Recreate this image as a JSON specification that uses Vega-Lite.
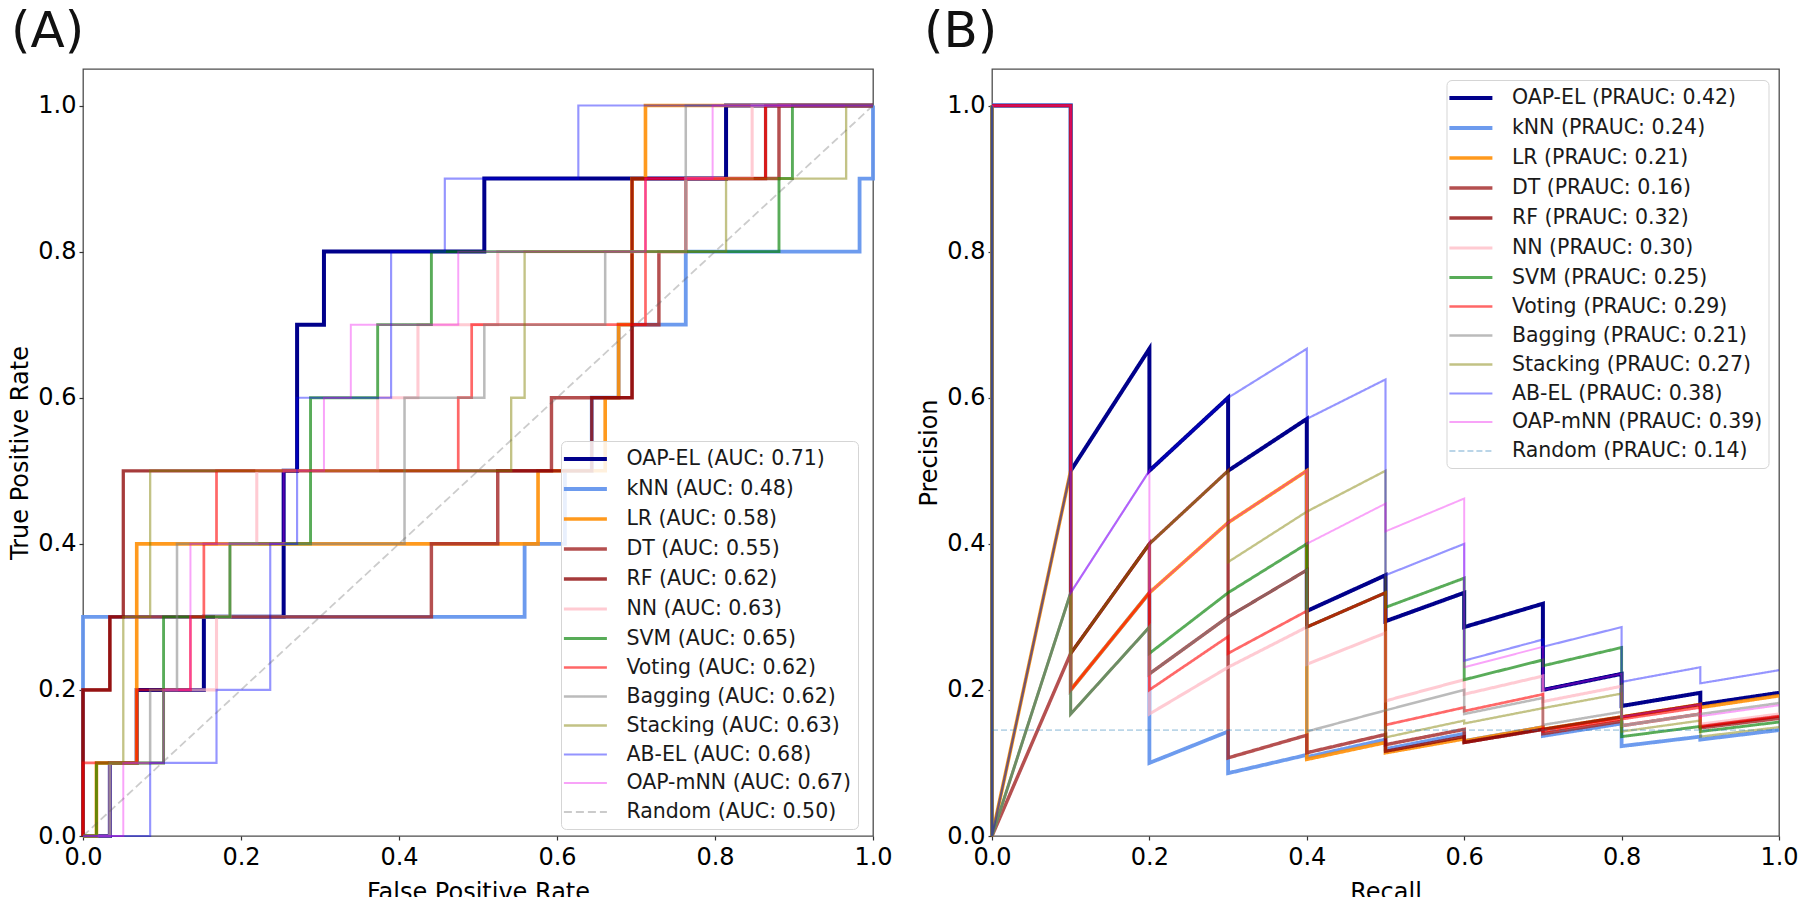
{
  "$schema": "https://vega.github.io/schema/vega-lite/v6.json",
  "padding": {"left": 8, "top": 5, "right": 0, "bottom": 0},
  "bounds": "flush",
  "spacing": 119,
  "config": {
    "font": "DejaVu Sans",
    "view": {"stroke": "#4d4d4d", "strokeWidth": 1.3},
    "axis": {"labelFont": "DejaVu Sans", "labelFontSize": 24, "labelColor": "#000", "titleFont": "DejaVu Sans", "titleFontSize": 24, "titleFontWeight": "normal", "titleColor": "#000", "grid": false, "domain": false, "tickColor": "#333", "tickSize": 4, "tickWidth": 1.2, "labelFlush": false, "labelOverlap": false},
    "axisY": {"labelPadding": 3, "titlePadding": 5},
    "axisX": {"labelPadding": 5, "titlePadding": 11},
    "legend": {"labelFont": "DejaVu Sans", "labelFontSize": 20.5, "labelColor": "#1a1a1a", "padding": 6, "rowPadding": 7, "fillColor": "rgba(255,255,255,0.85)", "strokeColor": "#d5d5d5", "cornerRadius": 5, "symbolSize": 400, "symbolOffset": 6.4, "labelOffset": 29, "labelLimit": 0},
    "title": {"font": "DejaVu Sans", "fontSize": 50, "fontWeight": "normal", "color": "#111", "anchor": "start", "frame": "group", "baseline": "alphabetic"}
  },
  "datasets": {
    "rocLab": [
      {"model": "OAP-EL", "label": "OAP-EL (AUC: 0.71)"},
      {"model": "kNN", "label": "kNN (AUC: 0.48)"},
      {"model": "LR", "label": "LR (AUC: 0.58)"},
      {"model": "DT", "label": "DT (AUC: 0.55)"},
      {"model": "RF", "label": "RF (AUC: 0.62)"},
      {"model": "NN", "label": "NN (AUC: 0.63)"},
      {"model": "SVM", "label": "SVM (AUC: 0.65)"},
      {"model": "Voting", "label": "Voting (AUC: 0.62)"},
      {"model": "Bagging", "label": "Bagging (AUC: 0.62)"},
      {"model": "Stacking", "label": "Stacking (AUC: 0.63)"},
      {"model": "AB-EL", "label": "AB-EL (AUC: 0.68)"},
      {"model": "OAP-mNN", "label": "OAP-mNN (AUC: 0.67)"},
      {"model": "Random", "label": "Random (AUC: 0.50)"}
    ],
    "prLab": [
      {"model": "OAP-EL", "label": "OAP-EL (PRAUC: 0.42)"},
      {"model": "kNN", "label": "kNN (PRAUC: 0.24)"},
      {"model": "LR", "label": "LR (PRAUC: 0.21)"},
      {"model": "DT", "label": "DT (PRAUC: 0.16)"},
      {"model": "RF", "label": "RF (PRAUC: 0.32)"},
      {"model": "NN", "label": "NN (PRAUC: 0.30)"},
      {"model": "SVM", "label": "SVM (PRAUC: 0.25)"},
      {"model": "Voting", "label": "Voting (PRAUC: 0.29)"},
      {"model": "Bagging", "label": "Bagging (PRAUC: 0.21)"},
      {"model": "Stacking", "label": "Stacking (PRAUC: 0.27)"},
      {"model": "AB-EL", "label": "AB-EL (PRAUC: 0.38)"},
      {"model": "OAP-mNN", "label": "OAP-mNN (PRAUC: 0.39)"},
      {"model": "Random", "label": "Random (PRAUC: 0.14)"}
    ],
    "rocRandom": [
      {"model": "Random", "fpr": 0, "tpr": 0},
      {"model": "Random", "fpr": 1, "tpr": 1}
    ],
    "roc": [
      {"model": "OAP-EL", "fpr": 0, "tpr": 0}, {"model": "OAP-EL", "fpr": 0.034, "tpr": 0.1}, {"model": "OAP-EL", "fpr": 0.068, "tpr": 0.2}, {"model": "OAP-EL", "fpr": 0.153, "tpr": 0.3}, {"model": "OAP-EL", "fpr": 0.254, "tpr": 0.4}, {"model": "OAP-EL", "fpr": 0.254, "tpr": 0.5}, {"model": "OAP-EL", "fpr": 0.271, "tpr": 0.6}, {"model": "OAP-EL", "fpr": 0.271, "tpr": 0.7}, {"model": "OAP-EL", "fpr": 0.305, "tpr": 0.8}, {"model": "OAP-EL", "fpr": 0.508, "tpr": 0.9}, {"model": "OAP-EL", "fpr": 0.814, "tpr": 1.0}, {"model": "OAP-EL", "fpr": 1, "tpr": 1.0},
      {"model": "kNN", "fpr": 0, "tpr": 0}, {"model": "kNN", "fpr": 0, "tpr": 0.1}, {"model": "kNN", "fpr": 0, "tpr": 0.2}, {"model": "kNN", "fpr": 0, "tpr": 0.3}, {"model": "kNN", "fpr": 0.559, "tpr": 0.4}, {"model": "kNN", "fpr": 0.61, "tpr": 0.5}, {"model": "kNN", "fpr": 0.644, "tpr": 0.6}, {"model": "kNN", "fpr": 0.678, "tpr": 0.7}, {"model": "kNN", "fpr": 0.763, "tpr": 0.8}, {"model": "kNN", "fpr": 0.983, "tpr": 0.9}, {"model": "kNN", "fpr": 1, "tpr": 1.0},
      {"model": "LR", "fpr": 0, "tpr": 0}, {"model": "LR", "fpr": 0.017, "tpr": 0.1}, {"model": "LR", "fpr": 0.068, "tpr": 0.2}, {"model": "LR", "fpr": 0.068, "tpr": 0.3}, {"model": "LR", "fpr": 0.068, "tpr": 0.4}, {"model": "LR", "fpr": 0.576, "tpr": 0.5}, {"model": "LR", "fpr": 0.661, "tpr": 0.6}, {"model": "LR", "fpr": 0.678, "tpr": 0.7}, {"model": "LR", "fpr": 0.695, "tpr": 0.8}, {"model": "LR", "fpr": 0.695, "tpr": 0.9}, {"model": "LR", "fpr": 0.712, "tpr": 1.0}, {"model": "LR", "fpr": 1, "tpr": 1.0},
      {"model": "DT", "fpr": 0, "tpr": 0}, {"model": "DT", "fpr": 0, "tpr": 0.1}, {"model": "DT", "fpr": 0, "tpr": 0.2}, {"model": "DT", "fpr": 0.034, "tpr": 0.3}, {"model": "DT", "fpr": 0.441, "tpr": 0.4}, {"model": "DT", "fpr": 0.525, "tpr": 0.5}, {"model": "DT", "fpr": 0.593, "tpr": 0.6}, {"model": "DT", "fpr": 0.695, "tpr": 0.7}, {"model": "DT", "fpr": 0.729, "tpr": 0.8}, {"model": "DT", "fpr": 0.763, "tpr": 0.9}, {"model": "DT", "fpr": 0.881, "tpr": 1.0}, {"model": "DT", "fpr": 1, "tpr": 1.0},
      {"model": "RF", "fpr": 0, "tpr": 0}, {"model": "RF", "fpr": 0, "tpr": 0.1}, {"model": "RF", "fpr": 0, "tpr": 0.2}, {"model": "RF", "fpr": 0.034, "tpr": 0.3}, {"model": "RF", "fpr": 0.051, "tpr": 0.4}, {"model": "RF", "fpr": 0.051, "tpr": 0.5}, {"model": "RF", "fpr": 0.644, "tpr": 0.6}, {"model": "RF", "fpr": 0.695, "tpr": 0.7}, {"model": "RF", "fpr": 0.695, "tpr": 0.8}, {"model": "RF", "fpr": 0.695, "tpr": 0.9}, {"model": "RF", "fpr": 0.864, "tpr": 1.0}, {"model": "RF", "fpr": 1, "tpr": 1.0},
      {"model": "NN", "fpr": 0, "tpr": 0}, {"model": "NN", "fpr": 0.034, "tpr": 0.1}, {"model": "NN", "fpr": 0.102, "tpr": 0.2}, {"model": "NN", "fpr": 0.169, "tpr": 0.3}, {"model": "NN", "fpr": 0.186, "tpr": 0.4}, {"model": "NN", "fpr": 0.22, "tpr": 0.5}, {"model": "NN", "fpr": 0.373, "tpr": 0.6}, {"model": "NN", "fpr": 0.424, "tpr": 0.7}, {"model": "NN", "fpr": 0.525, "tpr": 0.8}, {"model": "NN", "fpr": 0.763, "tpr": 0.9}, {"model": "NN", "fpr": 0.847, "tpr": 1.0}, {"model": "NN", "fpr": 1, "tpr": 1.0},
      {"model": "SVM", "fpr": 0, "tpr": 0}, {"model": "SVM", "fpr": 0.017, "tpr": 0.1}, {"model": "SVM", "fpr": 0.102, "tpr": 0.2}, {"model": "SVM", "fpr": 0.102, "tpr": 0.3}, {"model": "SVM", "fpr": 0.186, "tpr": 0.4}, {"model": "SVM", "fpr": 0.288, "tpr": 0.5}, {"model": "SVM", "fpr": 0.288, "tpr": 0.6}, {"model": "SVM", "fpr": 0.373, "tpr": 0.7}, {"model": "SVM", "fpr": 0.441, "tpr": 0.8}, {"model": "SVM", "fpr": 0.881, "tpr": 0.9}, {"model": "SVM", "fpr": 0.898, "tpr": 1.0}, {"model": "SVM", "fpr": 1, "tpr": 1.0},
      {"model": "Voting", "fpr": 0, "tpr": 0}, {"model": "Voting", "fpr": 0, "tpr": 0.1}, {"model": "Voting", "fpr": 0.068, "tpr": 0.2}, {"model": "Voting", "fpr": 0.136, "tpr": 0.3}, {"model": "Voting", "fpr": 0.153, "tpr": 0.4}, {"model": "Voting", "fpr": 0.169, "tpr": 0.5}, {"model": "Voting", "fpr": 0.475, "tpr": 0.6}, {"model": "Voting", "fpr": 0.492, "tpr": 0.7}, {"model": "Voting", "fpr": 0.712, "tpr": 0.8}, {"model": "Voting", "fpr": 0.712, "tpr": 0.9}, {"model": "Voting", "fpr": 0.864, "tpr": 1.0}, {"model": "Voting", "fpr": 1, "tpr": 1.0},
      {"model": "Bagging", "fpr": 0, "tpr": 0}, {"model": "Bagging", "fpr": 0.034, "tpr": 0.1}, {"model": "Bagging", "fpr": 0.085, "tpr": 0.2}, {"model": "Bagging", "fpr": 0.119, "tpr": 0.3}, {"model": "Bagging", "fpr": 0.119, "tpr": 0.4}, {"model": "Bagging", "fpr": 0.407, "tpr": 0.5}, {"model": "Bagging", "fpr": 0.407, "tpr": 0.6}, {"model": "Bagging", "fpr": 0.508, "tpr": 0.7}, {"model": "Bagging", "fpr": 0.661, "tpr": 0.8}, {"model": "Bagging", "fpr": 0.763, "tpr": 0.9}, {"model": "Bagging", "fpr": 0.763, "tpr": 1.0}, {"model": "Bagging", "fpr": 1, "tpr": 1.0},
      {"model": "Stacking", "fpr": 0, "tpr": 0}, {"model": "Stacking", "fpr": 0.017, "tpr": 0.1}, {"model": "Stacking", "fpr": 0.051, "tpr": 0.2}, {"model": "Stacking", "fpr": 0.051, "tpr": 0.3}, {"model": "Stacking", "fpr": 0.085, "tpr": 0.4}, {"model": "Stacking", "fpr": 0.085, "tpr": 0.5}, {"model": "Stacking", "fpr": 0.542, "tpr": 0.6}, {"model": "Stacking", "fpr": 0.559, "tpr": 0.7}, {"model": "Stacking", "fpr": 0.559, "tpr": 0.8}, {"model": "Stacking", "fpr": 0.814, "tpr": 0.9}, {"model": "Stacking", "fpr": 0.966, "tpr": 1.0}, {"model": "Stacking", "fpr": 1, "tpr": 1.0},
      {"model": "AB-EL", "fpr": 0, "tpr": 0}, {"model": "AB-EL", "fpr": 0.085, "tpr": 0.1}, {"model": "AB-EL", "fpr": 0.169, "tpr": 0.2}, {"model": "AB-EL", "fpr": 0.237, "tpr": 0.3}, {"model": "AB-EL", "fpr": 0.237, "tpr": 0.4}, {"model": "AB-EL", "fpr": 0.271, "tpr": 0.5}, {"model": "AB-EL", "fpr": 0.271, "tpr": 0.6}, {"model": "AB-EL", "fpr": 0.39, "tpr": 0.7}, {"model": "AB-EL", "fpr": 0.39, "tpr": 0.8}, {"model": "AB-EL", "fpr": 0.458, "tpr": 0.9}, {"model": "AB-EL", "fpr": 0.627, "tpr": 1.0}, {"model": "AB-EL", "fpr": 1, "tpr": 1.0},
      {"model": "OAP-mNN", "fpr": 0, "tpr": 0}, {"model": "OAP-mNN", "fpr": 0.051, "tpr": 0.1}, {"model": "OAP-mNN", "fpr": 0.102, "tpr": 0.2}, {"model": "OAP-mNN", "fpr": 0.136, "tpr": 0.3}, {"model": "OAP-mNN", "fpr": 0.136, "tpr": 0.4}, {"model": "OAP-mNN", "fpr": 0.254, "tpr": 0.5}, {"model": "OAP-mNN", "fpr": 0.305, "tpr": 0.6}, {"model": "OAP-mNN", "fpr": 0.339, "tpr": 0.7}, {"model": "OAP-mNN", "fpr": 0.475, "tpr": 0.8}, {"model": "OAP-mNN", "fpr": 0.712, "tpr": 0.9}, {"model": "OAP-mNN", "fpr": 0.797, "tpr": 1.0}, {"model": "OAP-mNN", "fpr": 1, "tpr": 1.0}
    ],
    "pr": [
      {"model": "OAP-EL", "o": 0, "recall": 0, "precision": 1}, {"model": "OAP-EL", "o": 1, "recall": 0.1, "precision": 1}, {"model": "OAP-EL", "o": 2, "recall": 0.1, "precision": 0.5}, {"model": "OAP-EL", "o": 3, "recall": 0.2, "precision": 0.667}, {"model": "OAP-EL", "o": 4, "recall": 0.2, "precision": 0.5}, {"model": "OAP-EL", "o": 5, "recall": 0.3, "precision": 0.6}, {"model": "OAP-EL", "o": 6, "recall": 0.3, "precision": 0.5}, {"model": "OAP-EL", "o": 7, "recall": 0.4, "precision": 0.571}, {"model": "OAP-EL", "o": 8, "recall": 0.4, "precision": 0.308}, {"model": "OAP-EL", "o": 9, "recall": 0.5, "precision": 0.357}, {"model": "OAP-EL", "o": 10, "recall": 0.5, "precision": 0.294}, {"model": "OAP-EL", "o": 11, "recall": 0.6, "precision": 0.333}, {"model": "OAP-EL", "o": 12, "recall": 0.6, "precision": 0.286}, {"model": "OAP-EL", "o": 13, "recall": 0.7, "precision": 0.318}, {"model": "OAP-EL", "o": 14, "recall": 0.7, "precision": 0.2}, {"model": "OAP-EL", "o": 15, "recall": 0.8, "precision": 0.222}, {"model": "OAP-EL", "o": 16, "recall": 0.8, "precision": 0.178}, {"model": "OAP-EL", "o": 17, "recall": 0.9, "precision": 0.196}, {"model": "OAP-EL", "o": 18, "recall": 0.9, "precision": 0.18}, {"model": "OAP-EL", "o": 19, "recall": 1.0, "precision": 0.196},
      {"model": "kNN", "o": 0, "recall": 0, "precision": 1}, {"model": "kNN", "o": 1, "recall": 0.1, "precision": 1}, {"model": "kNN", "o": 2, "recall": 0.1, "precision": 0.2}, {"model": "kNN", "o": 3, "recall": 0.2, "precision": 0.333}, {"model": "kNN", "o": 4, "recall": 0.2, "precision": 0.1}, {"model": "kNN", "o": 5, "recall": 0.3, "precision": 0.143}, {"model": "kNN", "o": 6, "recall": 0.3, "precision": 0.086}, {"model": "kNN", "o": 7, "recall": 0.4, "precision": 0.111}, {"model": "kNN", "o": 8, "recall": 0.4, "precision": 0.108}, {"model": "kNN", "o": 9, "recall": 0.5, "precision": 0.132}, {"model": "kNN", "o": 10, "recall": 0.5, "precision": 0.119}, {"model": "kNN", "o": 11, "recall": 0.6, "precision": 0.14}, {"model": "kNN", "o": 12, "recall": 0.6, "precision": 0.13}, {"model": "kNN", "o": 13, "recall": 0.7, "precision": 0.149}, {"model": "kNN", "o": 14, "recall": 0.7, "precision": 0.137}, {"model": "kNN", "o": 15, "recall": 0.8, "precision": 0.154}, {"model": "kNN", "o": 16, "recall": 0.8, "precision": 0.123}, {"model": "kNN", "o": 17, "recall": 0.9, "precision": 0.136}, {"model": "kNN", "o": 18, "recall": 0.9, "precision": 0.132}, {"model": "kNN", "o": 19, "recall": 1.0, "precision": 0.145},
      {"model": "LR", "o": 0, "recall": 0, "precision": 1}, {"model": "LR", "o": 1, "recall": 0, "precision": 0}, {"model": "LR", "o": 2, "recall": 0.1, "precision": 0.5}, {"model": "LR", "o": 3, "recall": 0.1, "precision": 0.2}, {"model": "LR", "o": 4, "recall": 0.2, "precision": 0.333}, {"model": "LR", "o": 5, "recall": 0.3, "precision": 0.429}, {"model": "LR", "o": 6, "recall": 0.4, "precision": 0.5}, {"model": "LR", "o": 7, "recall": 0.4, "precision": 0.105}, {"model": "LR", "o": 8, "recall": 0.5, "precision": 0.128}, {"model": "LR", "o": 9, "recall": 0.5, "precision": 0.114}, {"model": "LR", "o": 10, "recall": 0.6, "precision": 0.133}, {"model": "LR", "o": 11, "recall": 0.6, "precision": 0.13}, {"model": "LR", "o": 12, "recall": 0.7, "precision": 0.149}, {"model": "LR", "o": 13, "recall": 0.7, "precision": 0.146}, {"model": "LR", "o": 14, "recall": 0.8, "precision": 0.163}, {"model": "LR", "o": 15, "recall": 0.9, "precision": 0.18}, {"model": "LR", "o": 16, "recall": 0.9, "precision": 0.176}, {"model": "LR", "o": 17, "recall": 1.0, "precision": 0.192},
      {"model": "DT", "o": 0, "recall": 0, "precision": 1}, {"model": "DT", "o": 1, "recall": 0, "precision": 0}, {"model": "DT", "o": 2, "recall": 0.1, "precision": 0.25}, {"model": "DT", "o": 3, "recall": 0.2, "precision": 0.4}, {"model": "DT", "o": 4, "recall": 0.2, "precision": 0.222}, {"model": "DT", "o": 5, "recall": 0.3, "precision": 0.3}, {"model": "DT", "o": 6, "recall": 0.3, "precision": 0.107}, {"model": "DT", "o": 7, "recall": 0.4, "precision": 0.138}, {"model": "DT", "o": 8, "recall": 0.4, "precision": 0.114}, {"model": "DT", "o": 9, "recall": 0.5, "precision": 0.139}, {"model": "DT", "o": 10, "recall": 0.5, "precision": 0.125}, {"model": "DT", "o": 11, "recall": 0.6, "precision": 0.146}, {"model": "DT", "o": 12, "recall": 0.6, "precision": 0.128}, {"model": "DT", "o": 13, "recall": 0.7, "precision": 0.146}, {"model": "DT", "o": 14, "recall": 0.7, "precision": 0.14}, {"model": "DT", "o": 15, "recall": 0.8, "precision": 0.157}, {"model": "DT", "o": 16, "recall": 0.8, "precision": 0.151}, {"model": "DT", "o": 17, "recall": 0.9, "precision": 0.167}, {"model": "DT", "o": 18, "recall": 0.9, "precision": 0.148}, {"model": "DT", "o": 19, "recall": 1.0, "precision": 0.161},
      {"model": "RF", "o": 0, "recall": 0, "precision": 1}, {"model": "RF", "o": 1, "recall": 0.1, "precision": 1}, {"model": "RF", "o": 2, "recall": 0.1, "precision": 0.25}, {"model": "RF", "o": 3, "recall": 0.2, "precision": 0.4}, {"model": "RF", "o": 4, "recall": 0.3, "precision": 0.5}, {"model": "RF", "o": 5, "recall": 0.3, "precision": 0.3}, {"model": "RF", "o": 6, "recall": 0.4, "precision": 0.364}, {"model": "RF", "o": 7, "recall": 0.4, "precision": 0.286}, {"model": "RF", "o": 8, "recall": 0.5, "precision": 0.333}, {"model": "RF", "o": 9, "recall": 0.5, "precision": 0.116}, {"model": "RF", "o": 10, "recall": 0.6, "precision": 0.136}, {"model": "RF", "o": 11, "recall": 0.6, "precision": 0.128}, {"model": "RF", "o": 12, "recall": 0.7, "precision": 0.146}, {"model": "RF", "o": 13, "recall": 0.8, "precision": 0.163}, {"model": "RF", "o": 14, "recall": 0.9, "precision": 0.18}, {"model": "RF", "o": 15, "recall": 0.9, "precision": 0.15}, {"model": "RF", "o": 16, "recall": 1.0, "precision": 0.164},
      {"model": "NN", "o": 0, "recall": 0, "precision": 1}, {"model": "NN", "o": 1, "recall": 0, "precision": 0}, {"model": "NN", "o": 2, "recall": 0.1, "precision": 0.333}, {"model": "NN", "o": 3, "recall": 0.1, "precision": 0.167}, {"model": "NN", "o": 4, "recall": 0.2, "precision": 0.286}, {"model": "NN", "o": 5, "recall": 0.2, "precision": 0.167}, {"model": "NN", "o": 6, "recall": 0.3, "precision": 0.231}, {"model": "NN", "o": 7, "recall": 0.4, "precision": 0.286}, {"model": "NN", "o": 8, "recall": 0.4, "precision": 0.235}, {"model": "NN", "o": 9, "recall": 0.5, "precision": 0.278}, {"model": "NN", "o": 10, "recall": 0.5, "precision": 0.185}, {"model": "NN", "o": 11, "recall": 0.6, "precision": 0.214}, {"model": "NN", "o": 12, "recall": 0.6, "precision": 0.194}, {"model": "NN", "o": 13, "recall": 0.7, "precision": 0.219}, {"model": "NN", "o": 14, "recall": 0.7, "precision": 0.184}, {"model": "NN", "o": 15, "recall": 0.8, "precision": 0.205}, {"model": "NN", "o": 16, "recall": 0.8, "precision": 0.151}, {"model": "NN", "o": 17, "recall": 0.9, "precision": 0.167}, {"model": "NN", "o": 18, "recall": 0.9, "precision": 0.153}, {"model": "NN", "o": 19, "recall": 1.0, "precision": 0.167},
      {"model": "SVM", "o": 0, "recall": 0, "precision": 1}, {"model": "SVM", "o": 1, "recall": 0, "precision": 0}, {"model": "SVM", "o": 2, "recall": 0.1, "precision": 0.333}, {"model": "SVM", "o": 3, "recall": 0.1, "precision": 0.167}, {"model": "SVM", "o": 4, "recall": 0.2, "precision": 0.286}, {"model": "SVM", "o": 5, "recall": 0.2, "precision": 0.25}, {"model": "SVM", "o": 6, "recall": 0.3, "precision": 0.333}, {"model": "SVM", "o": 7, "recall": 0.4, "precision": 0.4}, {"model": "SVM", "o": 8, "recall": 0.4, "precision": 0.286}, {"model": "SVM", "o": 9, "recall": 0.5, "precision": 0.333}, {"model": "SVM", "o": 10, "recall": 0.5, "precision": 0.313}, {"model": "SVM", "o": 11, "recall": 0.6, "precision": 0.353}, {"model": "SVM", "o": 12, "recall": 0.6, "precision": 0.214}, {"model": "SVM", "o": 13, "recall": 0.7, "precision": 0.241}, {"model": "SVM", "o": 14, "recall": 0.7, "precision": 0.233}, {"model": "SVM", "o": 15, "recall": 0.8, "precision": 0.258}, {"model": "SVM", "o": 16, "recall": 0.8, "precision": 0.136}, {"model": "SVM", "o": 17, "recall": 0.9, "precision": 0.15}, {"model": "SVM", "o": 18, "recall": 0.9, "precision": 0.143}, {"model": "SVM", "o": 19, "recall": 1.0, "precision": 0.156},
      {"model": "Voting", "o": 0, "recall": 0, "precision": 1}, {"model": "Voting", "o": 1, "recall": 0.1, "precision": 1}, {"model": "Voting", "o": 2, "recall": 0.1, "precision": 0.2}, {"model": "Voting", "o": 3, "recall": 0.2, "precision": 0.333}, {"model": "Voting", "o": 4, "recall": 0.2, "precision": 0.2}, {"model": "Voting", "o": 5, "recall": 0.3, "precision": 0.273}, {"model": "Voting", "o": 6, "recall": 0.3, "precision": 0.25}, {"model": "Voting", "o": 7, "recall": 0.4, "precision": 0.308}, {"model": "Voting", "o": 8, "recall": 0.4, "precision": 0.286}, {"model": "Voting", "o": 9, "recall": 0.5, "precision": 0.333}, {"model": "Voting", "o": 10, "recall": 0.5, "precision": 0.152}, {"model": "Voting", "o": 11, "recall": 0.6, "precision": 0.176}, {"model": "Voting", "o": 12, "recall": 0.6, "precision": 0.171}, {"model": "Voting", "o": 13, "recall": 0.7, "precision": 0.194}, {"model": "Voting", "o": 14, "recall": 0.7, "precision": 0.143}, {"model": "Voting", "o": 15, "recall": 0.8, "precision": 0.16}, {"model": "Voting", "o": 16, "recall": 0.9, "precision": 0.176}, {"model": "Voting", "o": 17, "recall": 0.9, "precision": 0.15}, {"model": "Voting", "o": 18, "recall": 1.0, "precision": 0.164},
      {"model": "Bagging", "o": 0, "recall": 0, "precision": 1}, {"model": "Bagging", "o": 1, "recall": 0, "precision": 0}, {"model": "Bagging", "o": 2, "recall": 0.1, "precision": 0.333}, {"model": "Bagging", "o": 3, "recall": 0.1, "precision": 0.167}, {"model": "Bagging", "o": 4, "recall": 0.2, "precision": 0.286}, {"model": "Bagging", "o": 5, "recall": 0.2, "precision": 0.222}, {"model": "Bagging", "o": 6, "recall": 0.3, "precision": 0.3}, {"model": "Bagging", "o": 7, "recall": 0.4, "precision": 0.364}, {"model": "Bagging", "o": 8, "recall": 0.4, "precision": 0.143}, {"model": "Bagging", "o": 9, "recall": 0.5, "precision": 0.172}, {"model": "Bagging", "o": 10, "recall": 0.6, "precision": 0.2}, {"model": "Bagging", "o": 11, "recall": 0.6, "precision": 0.167}, {"model": "Bagging", "o": 12, "recall": 0.7, "precision": 0.189}, {"model": "Bagging", "o": 13, "recall": 0.7, "precision": 0.152}, {"model": "Bagging", "o": 14, "recall": 0.8, "precision": 0.17}, {"model": "Bagging", "o": 15, "recall": 0.8, "precision": 0.151}, {"model": "Bagging", "o": 16, "recall": 0.9, "precision": 0.167}, {"model": "Bagging", "o": 17, "recall": 1.0, "precision": 0.182},
      {"model": "Stacking", "o": 0, "recall": 0, "precision": 1}, {"model": "Stacking", "o": 1, "recall": 0, "precision": 0}, {"model": "Stacking", "o": 2, "recall": 0.1, "precision": 0.5}, {"model": "Stacking", "o": 3, "recall": 0.1, "precision": 0.25}, {"model": "Stacking", "o": 4, "recall": 0.2, "precision": 0.4}, {"model": "Stacking", "o": 5, "recall": 0.3, "precision": 0.5}, {"model": "Stacking", "o": 6, "recall": 0.3, "precision": 0.375}, {"model": "Stacking", "o": 7, "recall": 0.4, "precision": 0.444}, {"model": "Stacking", "o": 8, "recall": 0.5, "precision": 0.5}, {"model": "Stacking", "o": 9, "recall": 0.5, "precision": 0.135}, {"model": "Stacking", "o": 10, "recall": 0.6, "precision": 0.158}, {"model": "Stacking", "o": 11, "recall": 0.6, "precision": 0.154}, {"model": "Stacking", "o": 12, "recall": 0.7, "precision": 0.175}, {"model": "Stacking", "o": 13, "recall": 0.8, "precision": 0.195}, {"model": "Stacking", "o": 14, "recall": 0.8, "precision": 0.143}, {"model": "Stacking", "o": 15, "recall": 0.9, "precision": 0.158}, {"model": "Stacking", "o": 16, "recall": 0.9, "precision": 0.136}, {"model": "Stacking", "o": 17, "recall": 1.0, "precision": 0.149},
      {"model": "AB-EL", "o": 0, "recall": 0, "precision": 1}, {"model": "AB-EL", "o": 1, "recall": 0, "precision": 0}, {"model": "AB-EL", "o": 2, "recall": 0.1, "precision": 0.5}, {"model": "AB-EL", "o": 3, "recall": 0.1, "precision": 0.333}, {"model": "AB-EL", "o": 4, "recall": 0.2, "precision": 0.5}, {"model": "AB-EL", "o": 5, "recall": 0.3, "precision": 0.6}, {"model": "AB-EL", "o": 6, "recall": 0.4, "precision": 0.667}, {"model": "AB-EL", "o": 7, "recall": 0.4, "precision": 0.571}, {"model": "AB-EL", "o": 8, "recall": 0.5, "precision": 0.625}, {"model": "AB-EL", "o": 9, "recall": 0.5, "precision": 0.357}, {"model": "AB-EL", "o": 10, "recall": 0.6, "precision": 0.4}, {"model": "AB-EL", "o": 11, "recall": 0.6, "precision": 0.24}, {"model": "AB-EL", "o": 12, "recall": 0.7, "precision": 0.269}, {"model": "AB-EL", "o": 13, "recall": 0.7, "precision": 0.259}, {"model": "AB-EL", "o": 14, "recall": 0.8, "precision": 0.286}, {"model": "AB-EL", "o": 15, "recall": 0.8, "precision": 0.211}, {"model": "AB-EL", "o": 16, "recall": 0.9, "precision": 0.231}, {"model": "AB-EL", "o": 17, "recall": 0.9, "precision": 0.209}, {"model": "AB-EL", "o": 18, "recall": 1.0, "precision": 0.227},
      {"model": "OAP-mNN", "o": 0, "recall": 0, "precision": 1}, {"model": "OAP-mNN", "o": 1, "recall": 0.1, "precision": 1}, {"model": "OAP-mNN", "o": 2, "recall": 0.1, "precision": 0.333}, {"model": "OAP-mNN", "o": 3, "recall": 0.2, "precision": 0.5}, {"model": "OAP-mNN", "o": 4, "recall": 0.2, "precision": 0.333}, {"model": "OAP-mNN", "o": 5, "recall": 0.3, "precision": 0.429}, {"model": "OAP-mNN", "o": 6, "recall": 0.4, "precision": 0.5}, {"model": "OAP-mNN", "o": 7, "recall": 0.4, "precision": 0.4}, {"model": "OAP-mNN", "o": 8, "recall": 0.5, "precision": 0.455}, {"model": "OAP-mNN", "o": 9, "recall": 0.5, "precision": 0.417}, {"model": "OAP-mNN", "o": 10, "recall": 0.6, "precision": 0.462}, {"model": "OAP-mNN", "o": 11, "recall": 0.6, "precision": 0.231}, {"model": "OAP-mNN", "o": 12, "recall": 0.7, "precision": 0.259}, {"model": "OAP-mNN", "o": 13, "recall": 0.7, "precision": 0.2}, {"model": "OAP-mNN", "o": 14, "recall": 0.8, "precision": 0.222}, {"model": "OAP-mNN", "o": 15, "recall": 0.8, "precision": 0.163}, {"model": "OAP-mNN", "o": 16, "recall": 0.9, "precision": 0.18}, {"model": "OAP-mNN", "o": 17, "recall": 0.9, "precision": 0.164}, {"model": "OAP-mNN", "o": 18, "recall": 1.0, "precision": 0.179},
      {"model": "Random", "o": 0, "recall": 0, "precision": 0.145}, {"model": "Random", "o": 1, "recall": 1, "precision": 0.145}
    ]
  },
  "resolve": {
    "scale": {"x": "independent", "y": "independent", "color": "independent", "opacity": "independent", "strokeWidth": "independent", "strokeDash": "independent"},
    "legend": {"color": "independent", "opacity": "independent", "strokeWidth": "independent", "strokeDash": "independent"}
  },
  "hconcat": [
    {
      "width": 790,
      "height": 767,
      "title": {"text": "(A)", "dx": -72, "offset": 12.5},
      "encoding": {
        "x": {"field": "fpr", "type": "quantitative", "scale": {"domain": [0, 1], "nice": false, "zero": false}, "axis": {"title": "False Positive Rate", "values": [0, 0.2, 0.4, 0.6, 0.8, 1], "format": ".1f"}},
        "y": {"field": "tpr", "type": "quantitative", "scale": {"domain": [0, 1.05], "nice": false}, "axis": {"title": "True Positive Rate", "values": [0, 0.2, 0.4, 0.6, 0.8, 1], "format": ".1f"}},
        "color": {"field": "label", "type": "nominal", "scale": {"domain": ["OAP-EL (AUC: 0.71)", "kNN (AUC: 0.48)", "LR (AUC: 0.58)", "DT (AUC: 0.55)", "RF (AUC: 0.62)", "NN (AUC: 0.63)", "SVM (AUC: 0.65)", "Voting (AUC: 0.62)", "Bagging (AUC: 0.62)", "Stacking (AUC: 0.63)", "AB-EL (AUC: 0.68)", "OAP-mNN (AUC: 0.67)", "Random (AUC: 0.50)"], "range": ["#00008b", "#6495ed", "#ff8c00", "#a52a2a", "#8b0000", "#ffb6c1", "#008000", "#ff0000", "#808080", "#808000", "#0000ff", "#ee00ee", "#555555"]}, "legend": {"title": null, "orient": "none", "legendX": 478, "legendY": 372, "symbolType": "M-2.15,0H2.15"}},
        "opacity": {"field": "label", "type": "nominal", "scale": {"domain": ["OAP-EL (AUC: 0.71)", "kNN (AUC: 0.48)", "LR (AUC: 0.58)", "DT (AUC: 0.55)", "RF (AUC: 0.62)", "NN (AUC: 0.63)", "SVM (AUC: 0.65)", "Voting (AUC: 0.62)", "Bagging (AUC: 0.62)", "Stacking (AUC: 0.63)", "AB-EL (AUC: 0.68)", "OAP-mNN (AUC: 0.67)", "Random (AUC: 0.50)"], "range": [1, 0.3, 0.45, 0.42, 0.5, 0.6, 0.45, 0.42, 0.42, 0.45, 0.5, 0.45, 0.9]}, "legend": {"title": null, "orient": "none", "legendX": 478, "legendY": 372, "symbolType": "M-2.15,0H2.15"}},
        "strokeWidth": {"field": "label", "type": "nominal", "scale": {"domain": ["OAP-EL (AUC: 0.71)", "kNN (AUC: 0.48)", "LR (AUC: 0.58)", "DT (AUC: 0.55)", "RF (AUC: 0.62)", "NN (AUC: 0.63)", "SVM (AUC: 0.65)", "Voting (AUC: 0.62)", "Bagging (AUC: 0.62)", "Stacking (AUC: 0.63)", "AB-EL (AUC: 0.68)", "OAP-mNN (AUC: 0.67)", "Random (AUC: 0.50)"], "range": [4, 1.8, 1.8, 1.8, 1.8, 1.8, 1.8, 1.8, 1.8, 1.8, 2.4, 2.4, 1.6]}, "legend": {"title": null, "orient": "none", "legendX": 478, "legendY": 372, "symbolType": "M-2.15,0H2.15"}},
        "strokeDash": {"field": "label", "type": "nominal", "scale": {"domain": ["OAP-EL (AUC: 0.71)", "kNN (AUC: 0.48)", "LR (AUC: 0.58)", "DT (AUC: 0.55)", "RF (AUC: 0.62)", "NN (AUC: 0.63)", "SVM (AUC: 0.65)", "Voting (AUC: 0.62)", "Bagging (AUC: 0.62)", "Stacking (AUC: 0.63)", "AB-EL (AUC: 0.68)", "OAP-mNN (AUC: 0.67)", "Random (AUC: 0.50)"], "range": [[1, 0], [1, 0], [1, 0], [1, 0], [1, 0], [1, 0], [1, 0], [1, 0], [1, 0], [1, 0], [1, 0], [1, 0], [8, 4]]}, "legend": {"title": null, "orient": "none", "legendX": 478, "legendY": 372, "symbolType": "M-2.15,0H2.15"}},
        "order": [{"field": "tpr", "type": "quantitative"}, {"field": "fpr", "type": "quantitative"}]
      },
      "layer": [
        {
          "data": {"name": "roc"},
          "transform": [{"lookup": "model", "from": {"data": {"name": "rocLab"}, "key": "model", "fields": ["label"]}}],
          "mark": {"type": "line", "interpolate": "step-after"}
        },
        {
          "data": {"name": "rocRandom"},
          "transform": [{"lookup": "model", "from": {"data": {"name": "rocLab"}, "key": "model", "fields": ["label"]}}],
          "mark": {"type": "line"}
        }
      ]
    },
    {
      "width": 787,
      "height": 767,
      "title": {"text": "(B)", "dx": -68, "offset": 12.5},
      "data": {"name": "pr"},
      "transform": [{"lookup": "model", "from": {"data": {"name": "prLab"}, "key": "model", "fields": ["label"]}}],
      "mark": {"type": "line"},
      "encoding": {
        "x": {"field": "recall", "type": "quantitative", "scale": {"domain": [0, 1], "nice": false, "zero": false}, "axis": {"title": "Recall", "values": [0, 0.2, 0.4, 0.6, 0.8, 1], "format": ".1f"}},
        "y": {"field": "precision", "type": "quantitative", "scale": {"domain": [0, 1.05], "nice": false}, "axis": {"title": "Precision", "values": [0, 0.2, 0.4, 0.6, 0.8, 1], "format": ".1f"}},
        "color": {"field": "label", "type": "nominal", "scale": {"domain": ["OAP-EL (PRAUC: 0.42)", "kNN (PRAUC: 0.24)", "LR (PRAUC: 0.21)", "DT (PRAUC: 0.16)", "RF (PRAUC: 0.32)", "NN (PRAUC: 0.30)", "SVM (PRAUC: 0.25)", "Voting (PRAUC: 0.29)", "Bagging (PRAUC: 0.21)", "Stacking (PRAUC: 0.27)", "AB-EL (PRAUC: 0.38)", "OAP-mNN (PRAUC: 0.39)", "Random (PRAUC: 0.14)"], "range": ["#00008b", "#6495ed", "#ff8c00", "#a52a2a", "#8b0000", "#ffb6c1", "#008000", "#ff0000", "#808080", "#808000", "#0000ff", "#ee00ee", "#1f77b4"]}, "legend": {"title": null, "orient": "none", "legendX": 454.5, "legendY": 11, "symbolType": "M-2.15,0H2.15"}},
        "opacity": {"field": "label", "type": "nominal", "scale": {"domain": ["OAP-EL (PRAUC: 0.42)", "kNN (PRAUC: 0.24)", "LR (PRAUC: 0.21)", "DT (PRAUC: 0.16)", "RF (PRAUC: 0.32)", "NN (PRAUC: 0.30)", "SVM (PRAUC: 0.25)", "Voting (PRAUC: 0.29)", "Bagging (PRAUC: 0.21)", "Stacking (PRAUC: 0.27)", "AB-EL (PRAUC: 0.38)", "OAP-mNN (PRAUC: 0.39)", "Random (PRAUC: 0.14)"], "range": [1, 0.3, 0.45, 0.42, 0.5, 0.6, 0.45, 0.42, 0.42, 0.45, 0.5, 0.45, 1]}, "legend": {"title": null, "orient": "none", "legendX": 454.5, "legendY": 11, "symbolType": "M-2.15,0H2.15"}},
        "strokeWidth": {"field": "label", "type": "nominal", "scale": {"domain": ["OAP-EL (PRAUC: 0.42)", "kNN (PRAUC: 0.24)", "LR (PRAUC: 0.21)", "DT (PRAUC: 0.16)", "RF (PRAUC: 0.32)", "NN (PRAUC: 0.30)", "SVM (PRAUC: 0.25)", "Voting (PRAUC: 0.29)", "Bagging (PRAUC: 0.21)", "Stacking (PRAUC: 0.27)", "AB-EL (PRAUC: 0.38)", "OAP-mNN (PRAUC: 0.39)", "Random (PRAUC: 0.14)"], "range": [4, 1.8, 1.8, 1.8, 1.8, 1.8, 1.8, 1.8, 1.8, 1.8, 2.4, 2.4, 1.8]}, "legend": {"title": null, "orient": "none", "legendX": 454.5, "legendY": 11, "symbolType": "M-2.15,0H2.15"}},
        "strokeDash": {"field": "label", "type": "nominal", "scale": {"domain": ["OAP-EL (PRAUC: 0.42)", "kNN (PRAUC: 0.24)", "LR (PRAUC: 0.21)", "DT (PRAUC: 0.16)", "RF (PRAUC: 0.32)", "NN (PRAUC: 0.30)", "SVM (PRAUC: 0.25)", "Voting (PRAUC: 0.29)", "Bagging (PRAUC: 0.21)", "Stacking (PRAUC: 0.27)", "AB-EL (PRAUC: 0.38)", "OAP-mNN (PRAUC: 0.39)", "Random (PRAUC: 0.14)"], "range": [[1, 0], [1, 0], [1, 0], [1, 0], [1, 0], [1, 0], [1, 0], [1, 0], [1, 0], [1, 0], [1, 0], [1, 0], [6, 3]]}, "legend": {"title": null, "orient": "none", "legendX": 454.5, "legendY": 11, "symbolType": "M-2.15,0H2.15"}},
        "order": {"field": "o", "type": "quantitative"}
      }
    }
  ]
}
